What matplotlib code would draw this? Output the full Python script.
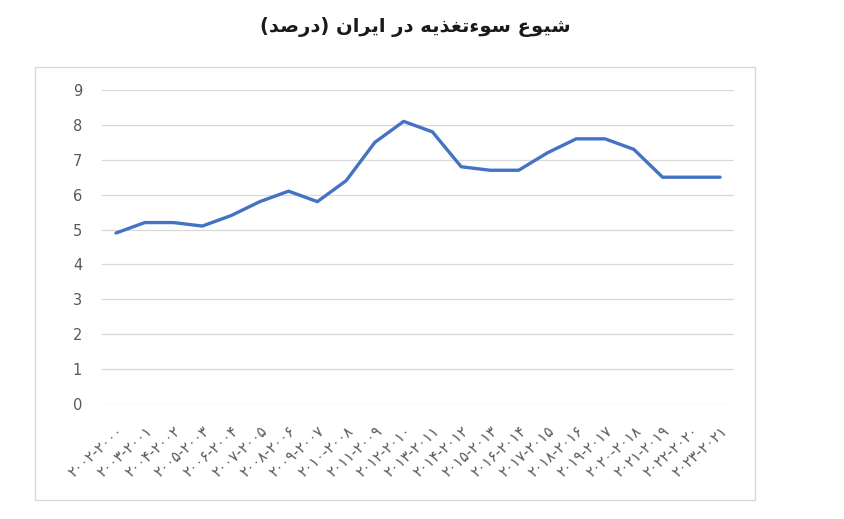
import matplotlib
matplotlib.use("Agg")
import matplotlib.pyplot as plt
from matplotlib.patches import Rectangle

years = list(range(2000, 2022))
values = [4.9, 5.2, 5.2, 5.1, 5.4, 5.8, 6.1, 5.8, 6.4, 7.5, 8.1, 7.8,
          6.8, 6.7, 6.7, 7.2, 7.6, 7.6, 7.3, 6.5, 6.5, 6.5]
title = "شیوع سوءتغذیه در ایران (درصد)"

FA_DIGITS = "۰۱۲۳۴۵۶۷۸۹"

def fa_num(n):
    return "".join(FA_DIGITS[int(c)] for c in str(n))

# label as seen on the chart, left to right: (y+2)-(y)
labels = ["{}-{}".format(fa_num(y + 2), fa_num(y)) for y in years]

# tiny reshaper: isolated, final, initial, medial
FORMS = {
    "ا": ("\uFE8D", "\uFE8E", None, None),
    "د": ("\uFEA9", "\uFEAA", None, None),
    "ذ": ("\uFEAB", "\uFEAC", None, None),
    "ر": ("\uFEAD", "\uFEAE", None, None),
    "و": ("\uFEED", "\uFEEE", None, None),
    "ء": ("\uFE80", "\uFE80", None, None),
    "ت": ("\uFE95", "\uFE96", "\uFE97", "\uFE98"),
    "س": ("\uFEB1", "\uFEB2", "\uFEB3", "\uFEB4"),
    "ش": ("\uFEB5", "\uFEB6", "\uFEB7", "\uFEB8"),
    "ص": ("\uFEB9", "\uFEBA", "\uFEBB", "\uFEBC"),
    "ع": ("\uFEC9", "\uFECA", "\uFECB", "\uFECC"),
    "غ": ("\uFECD", "\uFECE", "\uFECF", "\uFED0"),
    "ن": ("\uFEE5", "\uFEE6", "\uFEE7", "\uFEE8"),
    "ه": ("\uFEE9", "\uFEEA", "\uFEEB", "\uFEEC"),
    "ی": ("\uFBFC", "\uFBFD", "\uFEF3", "\uFEF4"),
}

def joins_left(ch):
    return ch in FORMS and FORMS[ch][2] is not None

def reshape(text):
    out = []
    for i, ch in enumerate(text):
        if ch not in FORMS:
            out.append(ch)
            continue
        prev = text[i - 1] if i > 0 else ""
        nxt = text[i + 1] if i + 1 < len(text) else ""
        from_prev = joins_left(prev)
        to_next = joins_left(ch) and nxt in FORMS
        iso, fin, ini, med = FORMS[ch]
        if from_prev and to_next:
            out.append(med)
        elif from_prev:
            out.append(fin)
        elif to_next:
            out.append(ini)
        else:
            out.append(iso)
    vis = "".join(out)[::-1]
    return vis.translate(str.maketrans("()", ")("))

fig = plt.figure(figsize=(8.44, 5.19), dpi=100)
fig.patches.append(Rectangle((0.0415, 0.0366), 0.853, 0.834, transform=fig.transFigure,
                             fill=False, edgecolor="#d9d9d9", linewidth=1))

ax = fig.add_axes([0.1204, 0.2216, 0.7498, 0.605])
x = list(range(len(values)))
ax.plot(x, values, color="#4472C4", linewidth=2.4, solid_capstyle="round")

ax.set_xlim(-0.5, len(values) - 0.5)
ax.set_ylim(0, 9)
ax.set_yticks(range(0, 10))
ax.yaxis.grid(True, color="#d9d9d9", linewidth=0.9)
ax.set_axisbelow(True)
for s in ax.spines.values():
    s.set_visible(False)
ax.tick_params(axis="both", length=0, colors="#595959", labelsize=10.5)
ax.tick_params(axis="y", pad=14)
ax.tick_params(axis="x", pad=14)
ax.set_xticks(x)
ax.set_xticklabels(labels, rotation=42, ha="right", rotation_mode="anchor",
                   fontsize=10.5, color="#595959")

fig.text(0.492, 0.948, reshape(title), ha="center", va="center",
         fontsize=14, fontweight="bold", color="#1a1a1a", family=["DejaVu Sans"])

fig.savefig("out.png", dpi=100, facecolor="white")
